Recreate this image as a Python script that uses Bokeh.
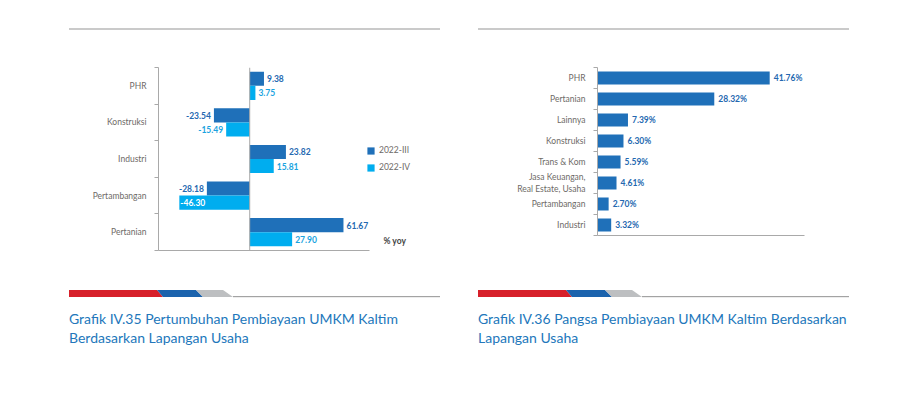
from bokeh.plotting import figure
from bokeh.models import (ColumnDataSource, FixedTicker, Span, Label, Legend, LegendItem,
                          Div, Range1d)
from bokeh.layouts import row, column
from bokeh.embed import file_html
from bokeh.resources import INLINE
from bokeh.core.properties import value

# ---------------- data ----------------
growth_categories = ["PHR", "Konstruksi", "Industri", "Pertambangan", "Pertanian"]
growth_series = ["2022-III", "2022-IV"]
growth_2022_III = [9.38, -23.54, 23.82, -28.18, 61.67]
growth_2022_IV = [3.75, -15.49, 15.81, -46.30, 27.90]

share_categories = ["PHR", "Pertanian", "Lainnya", "Konstruksi", "Trans & Kom",
                    "Jasa Keuangan,\nReal Estate, Usaha", "Pertambangan", "Industri"]
share_values = [41.76, 28.32, 7.39, 6.30, 5.59, 4.61, 2.70, 3.32]

caption_left = "Grafik IV.35 Pertumbuhan Pembiayaan UMKM Kaltim<br>Berdasarkan Lapangan Usaha"
caption_right = "Grafik IV.36 Pangsa Pembiayaan UMKM Kaltim Berdasarkan<br>Lapangan Usaha"

# ---------------- style ----------------
FONT = "Lato"
C_III = "#1f70b9"
C_IV = "#00adef"
C_LBL_III = "#2468b0"
C_LBL_IV = "#1aa3e0"
AX = "#a9a9a9"
CAT_COL = "#6e6a67"
CAP_COL = "#2277bb"

# ---------------- left chart ----------------
n1 = len(growth_categories)
centers1 = [n1 - i - 0.5 for i in range(n1)]
X0, X1 = -60, 113
px_per_unit = 263 / (X1 - X0)

p1 = figure(frame_width=263, frame_height=183, x_range=Range1d(X0, X1), y_range=Range1d(0, n1),
            output_backend="svg", toolbar_location=None,
            min_border_left=158, min_border_right=41, min_border_top=9, min_border_bottom=20,
            outline_line_color=None, margin=0)
p1.xgrid.visible = False
p1.ygrid.visible = False

bh = 0.385
src3 = ColumnDataSource(dict(y=[c + bh / 2 for c in centers1], v=growth_2022_III))
src4 = ColumnDataSource(dict(y=[c - bh / 2 for c in centers1], v=growth_2022_IV))
r3 = p1.hbar(y="y", left=0, right="v", height=bh, source=src3, fill_color=C_III, line_color=None)
r4 = p1.hbar(y="y", left=0, right="v", height=bh, source=src4, fill_color=C_IV, line_color=None)


def label_source(ys, vals, color):
    xs, aligns, offs, cols, txt = [], [], [], [], []
    for v in vals:
        xs.append(v)
        txt.append(f"{v:.2f}")
        if v >= 0:
            aligns.append("left"); offs.append(3); cols.append(color)
        else:
            space = (v - X0) * px_per_unit
            if space < 32:
                # not enough room outside the bar: write inside it, in white
                aligns.append("left"); offs.append(1); cols.append("white")
            else:
                aligns.append("right"); offs.append(-3); cols.append(color)
    return ColumnDataSource(dict(x=xs, y=ys, t=txt, a=aligns, o=offs, c=cols))


for src, color in ((src3, C_LBL_III), (src4, C_LBL_IV)):
    ls = label_source(src.data["y"], src.data["v"], color)
    p1.text(x="x", y="y", text="t", source=ls, text_align="a", x_offset="o", text_color="c",
            text_baseline="middle", text_font=value(FONT), text_font_style="bold",
            text_font_size="8.5px")

p1.add_layout(Span(location=0, dimension="height", line_color=AX, line_width=1))

p1.yaxis.ticker = FixedTicker(ticks=centers1, minor_ticks=list(range(n1 + 1)))
p1.yaxis.major_label_overrides = {c: name for c, name in zip(centers1, growth_categories)}
p1.xaxis.ticker = FixedTicker(ticks=[])
p1.xaxis.bounds = (X0, 79)
for ax in (p1.xaxis, p1.yaxis):
    ax.axis_line_color = AX
    ax.major_tick_line_color = None
    ax.major_tick_out = 0
    ax.major_tick_in = 0
    ax.minor_tick_line_color = AX
    ax.minor_tick_out = 4
    ax.minor_tick_in = 0
    ax.major_label_standoff = 8
    ax.major_label_text_font = FONT
    ax.major_label_text_font_size = "8.5px"
    ax.major_label_text_color = CAT_COL
p1.xaxis.minor_tick_line_color = None

legend = Legend(items=[LegendItem(label=growth_series[0], renderers=[r3]),
                       LegendItem(label=growth_series[1], renderers=[r4])],
                location=(208, 78), glyph_width=9, glyph_height=9, label_height=9,
                label_standoff=4, spacing=7, padding=0, margin=0,
                border_line_color=None, background_fill_alpha=0,
                label_text_font=FONT, label_text_font_size="8.5px", label_text_color=CAT_COL)
p1.add_layout(legend)
p1.add_layout(Label(x=88, y=0.27, text="% yoy", text_font=FONT, text_font_style="bold",
                    text_font_size="8.5px", text_color="#444444", text_baseline="middle"))

# ---------------- right chart ----------------
n2 = len(share_categories)
centers2 = [n2 - i - 0.5 for i in range(n2)]
p2 = figure(frame_width=207, frame_height=168, x_range=Range1d(0, 50.2), y_range=Range1d(0, n2),
            output_backend="svg", toolbar_location=None,
            min_border_left=135, min_border_right=109, min_border_top=9, min_border_bottom=35,
            outline_line_color=None, margin=0)
p2.xgrid.visible = False
p2.ygrid.visible = False
src2 = ColumnDataSource(dict(y=centers2, v=share_values, t=[f"{v:.2f}%" for v in share_values]))
p2.hbar(y="y", left=0, right="v", height=0.63, source=src2, fill_color=C_III, line_color=None)
p2.text(x="v", y="y", text="t", source=src2, x_offset=4, text_baseline="middle",
        text_color=C_LBL_III, text_font=value(FONT), text_font_style="bold", text_font_size="8.5px")

p2.yaxis.ticker = FixedTicker(ticks=centers2, minor_ticks=list(range(n2 + 1)))
p2.yaxis.major_label_overrides = {c: name for c, name in zip(centers2, share_categories)}
p2.xaxis.ticker = FixedTicker(ticks=[])
for ax in (p2.xaxis, p2.yaxis):
    ax.axis_line_color = AX
    ax.major_tick_line_color = None
    ax.major_tick_out = 0
    ax.major_tick_in = 0
    ax.minor_tick_line_color = AX
    ax.minor_tick_out = 4
    ax.minor_tick_in = 0
    ax.major_label_standoff = 8
    ax.major_label_text_font = FONT
    ax.major_label_text_font_size = "8.5px"
    ax.major_label_text_color = CAT_COL
p2.xaxis.minor_tick_line_color = None


# ---------------- decorations ----------------
def top_div(width, left):
    return Div(width=width, height=58, margin=0,
               text=f'<div style="padding-top:28px;padding-left:{left}px">'
                    f'<div style="width:371px;height:2px;background:#cacaca"></div></div>')


STRIPE = ('<svg width="371" height="8" style="display:block">'
          '<polygon points="0,0 88,0 94,7 0,7" fill="#d7202a"/>'
          '<polygon points="88,0 127,0 134,7 94,7" fill="#1b63ad"/>'
          '<polygon points="127,0 154,0 164,7 134,7" fill="#bdbfc1"/>'
          '<rect x="164" y="6" width="207" height="1.2" fill="#a3a3a3"/>'
          '</svg>')


def bottom_div(width, left, caption):
    return Div(width=width, height=115, margin=0,
               text=f'<div style="padding-top:20px;padding-left:{left}px">{STRIPE}'
                    f'<div style="margin-top:11px;font-family:{FONT};font-size:14px;'
                    f'line-height:19px;color:{CAP_COL};white-space:nowrap">{caption}</div></div>')


left_col = column(top_div(462, 69), p1, bottom_div(462, 69, caption_left), spacing=0)
right_col = column(top_div(451, 16), p2, bottom_div(451, 16, caption_right), spacing=0)
layout = row(left_col, right_col, spacing=0)

open("out.html", "w").write(file_html(layout, INLINE))
